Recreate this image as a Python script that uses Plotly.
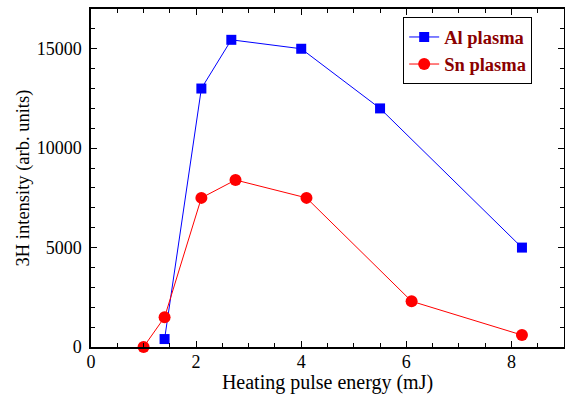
import plotly.graph_objects as go

al_x = [1.4, 2.1, 2.67, 4.0, 5.5, 8.2]
al_y = [400, 13000, 15450, 15000, 12000, 5000]
sn_x = [1.0, 1.4, 2.1, 2.75, 4.1, 6.1, 8.2]
sn_y = [0, 1500, 7500, 8400, 7500, 2300, 600]

font = "Liberation Serif"

fig = go.Figure()
fig.add_trace(go.Scatter(x=al_x, y=al_y, mode="lines+markers", name="Al plasma",
                         line=dict(color="#0000FF", width=1),
                         marker=dict(symbol="square", size=10, color="#0000FF"),
                         cliponaxis=False))
fig.add_trace(go.Scatter(x=sn_x, y=sn_y, mode="lines+markers", name="Sn plasma",
                         line=dict(color="#FF0000", width=1),
                         marker=dict(symbol="circle", size=12, color="#FF0000"),
                         cliponaxis=False))

axis_common = dict(showline=True, linecolor="black", linewidth=1.5, mirror="allticks",
                   ticks="inside", ticklen=6, tickcolor="black", tickwidth=1,
                   showgrid=False, zeroline=False, automargin=False,
                   tickformat="d",
                   tickfont=dict(family=font, size=18, color="black"),
                   minor=dict(ticks="inside", ticklen=4, tickcolor="black", tickwidth=1))

fig.update_xaxes(range=[0, 9], dtick=2, tick0=0, ticklabelstandoff=-2,
                 title=dict(text="Heating pulse energy (mJ)", font=dict(family=font, size=20, color="black"), standoff=0),
                 **axis_common)
fig.update_yaxes(range=[0, 17000], dtick=5000, tick0=0, ticklabelstandoff=4,
                 title=dict(text="3H intensity (arb. units)", font=dict(family=font, size=18.5, color="black"), standoff=2),
                 **axis_common)

fig.update_layout(
    width=565, height=394,
    margin=dict(l=91, r=1, t=9, b=47),
    plot_bgcolor="white", paper_bgcolor="white",
    showlegend=True,
    legend=dict(x=0.66, y=0.975, xanchor="left", yanchor="top",
                bgcolor="white", bordercolor="black", borderwidth=1,
                font=dict(family=font, size=18.5, color="#8B0000", weight="bold"),
                itemwidth=30, tracegroupgap=0),
)

fig.write_html("out.html", config={"displayModeBar": False},
               post_script="document.body.style.margin='0';document.body.style.overflow='hidden';")
